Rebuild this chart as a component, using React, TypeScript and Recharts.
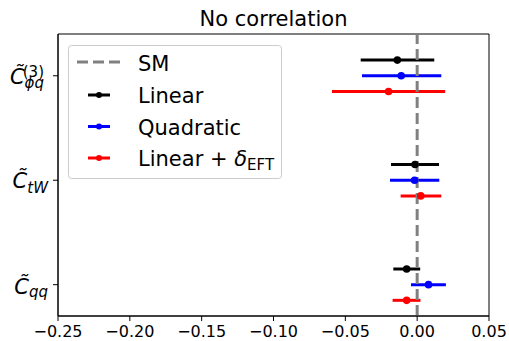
import React from 'react';
import {
  ScatterChart,
  Scatter,
  XAxis,
  YAxis,
  ErrorBar,
  ReferenceLine,
  ReferenceArea,
} from 'recharts';

// coefficient rows, top to bottom
const coefficients = ['Cphiq3', 'CtW', 'Cqq'];
const rowPos = [3, 2, 1];

// best fit values and 95% interval ends
const linearBest = [-0.0138, -0.0015, -0.0073];
const linearLow = [-0.0393, -0.0182, -0.0166];
const linearHigh = [0.0119, 0.0152, 0.0021];

const quadBest = [-0.0111, -0.0018, 0.0079];
const quadLow = [-0.0384, -0.0189, -0.0043];
const quadHigh = [0.0168, 0.0154, 0.02];

const eftBest = [-0.0199, 0.0025, -0.0073];
const eftLow = [-0.0593, -0.0115, -0.0171];
const eftHigh = [0.0195, 0.0168, 0.0023];

const xTicks = [-0.25, -0.2, -0.15, -0.1, -0.05, 0, 0.05];
const yTicks = [1, 2, 3];

const FONT = 'DejaVu Sans, sans-serif';

const buildRows = (best: number[], low: number[], high: number[], shift: number) =>
  best.map((b, i) => ({
    name: coefficients[i],
    x: b,
    y: rowPos[i] + shift,
    err: [b - low[i], high[i] - b],
  }));

const linearData = buildRows(linearBest, linearLow, linearHigh, 0.15);
const quadData = buildRows(quadBest, quadLow, quadHigh, 0);
const eftData = buildRows(eftBest, eftLow, eftHigh, -0.15);

const series = [
  { key: 'linear', data: linearData, color: '#000000' },
  { key: 'quad', data: quadData, color: '#0000ff' },
  { key: 'eft', data: eftData, color: '#ff0000' },
];

const fmtX = (v: number) => {
  if (Math.abs(v) < 1e-9) return '0.00';
  return (v < 0 ? '\u2212' : '') + Math.abs(v).toFixed(2);
};

const YTick = (props: any) => {
  const { y, payload } = props;
  const right = 58 - 12;
  const v = payload.value;
  if (v === 3) {
    return (
      <g fontFamily={FONT} fill="#000">
        <text x={right - 2} y={y + 8.3} textAnchor="end">
          <tspan fontSize={21} fontStyle="italic">C̃</tspan>
          <tspan fontSize={15} fontStyle="italic" dy={4}>ϕq</tspan>
        </text>
        <text x={right - 2} y={y + 1} textAnchor="end" fontSize={15}>(3)</text>
      </g>
    );
  }
  if (v === 2) {
    return (
      <text x={right + 2} y={y + 8} textAnchor="end" fontFamily={FONT} fill="#000">
        <tspan fontSize={21} fontStyle="italic">C̃</tspan>
        <tspan fontSize={15} fontStyle="italic" dy={5}>tW</tspan>
      </text>
    );
  }
  return (
    <text x={right + 2} y={y + 9.5} textAnchor="end" fontFamily={FONT} fill="#000">
      <tspan fontSize={21} fontStyle="italic">C̃</tspan>
      <tspan fontSize={15} fontStyle="italic" dy={2.5}>qq</tspan>
    </text>
  );
};

const dot = (color: string) => (props: any) =>
  <circle cx={props.cx} cy={props.cy} r={3.8} fill={color} />;

const noDot = () => <g />;

const legendItems = [
  { label: 'Linear', color: '#000000', y: 95 },
  { label: 'Quadratic', color: '#0000ff', y: 126.5 },
  { label: 'eft', color: '#ff0000', y: 158 },
];

const Overlay = () => (
  <svg
    width={509}
    height={341}
    style={{ position: 'absolute', left: 0, top: 0, pointerEvents: 'none' }}
    fontFamily={FONT}
  >
    <text x={273.5} y={26} textAnchor="middle" fontSize={21} fill="#000">
      No correlation
    </text>
    <rect x={68.5} y={45.5} width={213} height={133} rx={3} fill="#fff" fillOpacity={0.8} stroke="#cccccc" />
    <line x1={77} x2={120} y1={62} y2={62} stroke="#808080" strokeWidth={3} strokeDasharray="11 5" />
    <text x={138} y={70.5} fontSize={21} fill="#000">SM</text>
    {legendItems.map((it) => (
      <g key={it.label}>
        <line x1={88} x2={110} y1={it.y} y2={it.y} stroke={it.color} strokeWidth={3} />
        <circle cx={99} cy={it.y} r={3} fill={it.color} />
        {it.label === 'eft' ? (
          <text x={138} y={it.y + 8} fontSize={21} fill="#000">
            <tspan>Linear + </tspan>
            <tspan fontStyle="italic">δ</tspan>
            <tspan fontSize={15} dy={4}>EFT</tspan>
          </text>
        ) : (
          <text x={138} y={it.y + 8} fontSize={21} fill="#000">{it.label}</text>
        )}
      </g>
    ))}
  </svg>
);

export default function App() {
  return (
    <div style={{ position: 'absolute', left: 0, top: 0, width: 509, height: 341, background: '#fff' }}>
      <ScatterChart width={509} height={341} margin={{ top: 34, right: 20, bottom: 0, left: 0 }}>
        <XAxis
          type="number"
          dataKey="x"
          domain={[-0.25, 0.05]}
          ticks={xTicks}
          tickFormatter={fmtX}
          allowDataOverflow
          height={25}
          tickSize={5}
          tickMargin={5}
          axisLine={{ stroke: '#000' }}
          tickLine={{ stroke: '#000' }}
          tick={{ fill: '#000', fontSize: 16, fontFamily: FONT }}
        />
        <YAxis
          type="number"
          dataKey="y"
          domain={[0.7, 3.4]}
          ticks={yTicks}
          allowDataOverflow
          width={58}
          tickSize={5}
          axisLine={{ stroke: '#000' }}
          tickLine={{ stroke: '#000' }}
          tick={<YTick />}
        />
        <ReferenceArea x1={-0.25} x2={0.05} y1={0.7} y2={3.4} fill="none" stroke="#000" strokeWidth={1} />
        {series.map((s) => (
          <Scatter key={s.key + '-err'} data={s.data} shape={noDot} isAnimationActive={false}>
            <ErrorBar dataKey="err" direction="x" width={0} stroke={s.color} strokeWidth={3} isAnimationActive={false} />
          </Scatter>
        ))}
        <ReferenceLine x={0} stroke="#808080" strokeWidth={3} strokeDasharray="11 5" />
        {series.map((s) => (
          <Scatter key={s.key + '-pt'} data={s.data} shape={dot(s.color)} isAnimationActive={false} />
        ))}
      </ScatterChart>
      <Overlay />
    </div>
  );
}
